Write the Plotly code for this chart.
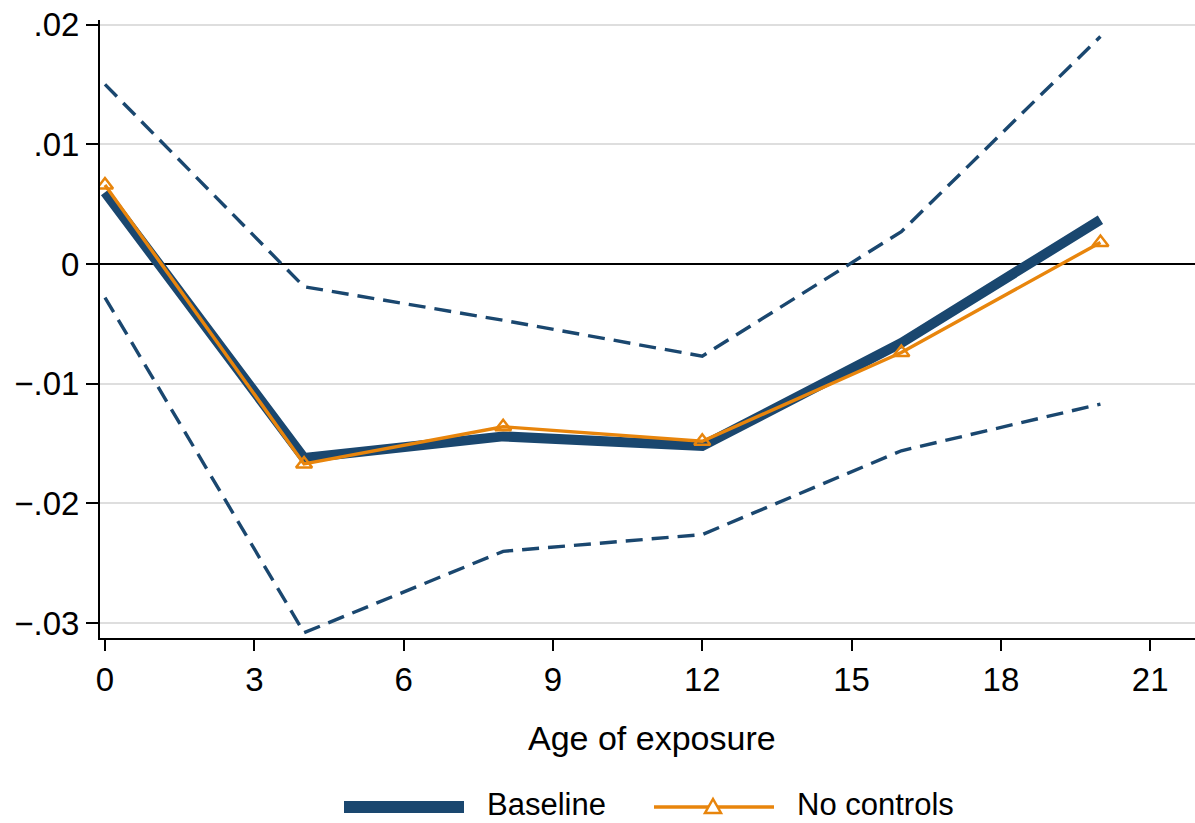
import plotly.graph_objects as go

# ---- data ----
age = [0, 4, 8, 12, 16, 20]
baseline = [0.0060, -0.0162, -0.0144, -0.0152, -0.0066, 0.0037]
no_controls = [0.0066, -0.0167, -0.0136, -0.0148, -0.0074, 0.0018]
ci_upper = [0.0150, -0.0019, -0.0047, -0.0077, 0.0027, 0.0190]
ci_lower = [-0.0028, -0.0308, -0.0240, -0.0226, -0.0156, -0.0117]

x_ticks = [0, 3, 6, 9, 12, 15, 18, 21]
y_ticks = [0.02, 0.01, 0, -0.01, -0.02, -0.03]
y_tick_labels = [".02", ".01", "0", "\u2212.01", "\u2212.02", "\u2212.03"]
series_names = ["Baseline", "No controls"]
x_title = "Age of exposure"

NAVY = "#1a476f"
ORANGE = "#e8850c"
FONT = "Liberation Sans, Arial, sans-serif"

W, H = 1195, 823
ML, MR, MT, MB = 100, 0, 20, 185
PW, PH = W - ML - MR, H - MT - MB


def px(x):
    return (x - ML) / PW


def py(y):
    return (H - MB - y) / PH


fig = go.Figure()
for ci in (ci_upper, ci_lower):
    fig.add_trace(go.Scatter(x=age, y=ci, mode="lines", showlegend=False,
                             line=dict(color=NAVY, width=3.4, dash="17px,9px")))
fig.add_trace(go.Scatter(x=age, y=baseline, mode="lines", name=series_names[0],
                         showlegend=False, line=dict(color=NAVY, width=10)))
fig.add_trace(go.Scatter(x=age, y=no_controls, mode="lines+markers", name=series_names[1],
                         showlegend=False, line=dict(color=ORANGE, width=3.4),
                         marker=dict(symbol="triangle-up-open", size=14,
                                     color=ORANGE, line=dict(color=ORANGE, width=2.5))))

# custom legend (real text)
LY = 807
fig.add_shape(type="line", xref="paper", yref="paper", x0=px(344), x1=px(464),
              y0=py(LY), y1=py(LY), line=dict(color=NAVY, width=12))
fig.add_shape(type="line", xref="paper", yref="paper", x0=px(654), x1=px(774),
              y0=py(LY), y1=py(LY), line=dict(color=ORANGE, width=3.4))
tx, ty = 713, 806
fig.add_shape(type="path", xref="paper", yref="paper",
              path=f"M {px(tx-8)} {py(ty+7)} L {px(tx+8)} {py(ty+7)} L {px(tx)} {py(ty-7)} Z",
              line=dict(color=ORANGE, width=2.5), fillcolor="white")
fig.add_annotation(text=series_names[0], xref="paper", yref="paper", x=px(485), y=py(804),
                   xanchor="left", yanchor="middle", showarrow=False,
                   font=dict(family=FONT, size=31, color="black"))
fig.add_annotation(text=series_names[1], xref="paper", yref="paper", x=px(795), y=py(804),
                   xanchor="left", yanchor="middle", showarrow=False,
                   font=dict(family=FONT, size=31, color="black"))
fig.add_annotation(text=x_title, xref="paper", yref="paper", x=px(651.5), y=py(738),
                   xanchor="center", yanchor="middle", showarrow=False,
                   font=dict(family=FONT, size=34, color="black"))

fig.update_layout(
    width=W, height=H,
    margin=dict(l=ML, r=MR, t=MT, b=MB, pad=0),
    paper_bgcolor="white", plot_bgcolor="white",
    showlegend=False,
    font=dict(family=FONT, color="black"),
    xaxis=dict(range=[-0.1, 21.9], tickvals=x_ticks, showgrid=False, zeroline=False,
               showline=True, linecolor="black", linewidth=2,
               ticks="outside", ticklen=11, tickwidth=2, tickcolor="black",
               tickfont=dict(family=FONT, size=33, color="black")),
    yaxis=dict(range=[-0.03124, 0.02038], tickvals=y_ticks, ticktext=y_tick_labels,
               showgrid=True, gridcolor="#dedede", gridwidth=2,
               zeroline=True, zerolinecolor="black", zerolinewidth=2,
               showline=True, linecolor="black", linewidth=2,
               ticks="outside", ticklen=12, tickwidth=2, tickcolor="black",
               tickfont=dict(family=FONT, size=33, color="black")),
)

fig.write_html("out.html")
